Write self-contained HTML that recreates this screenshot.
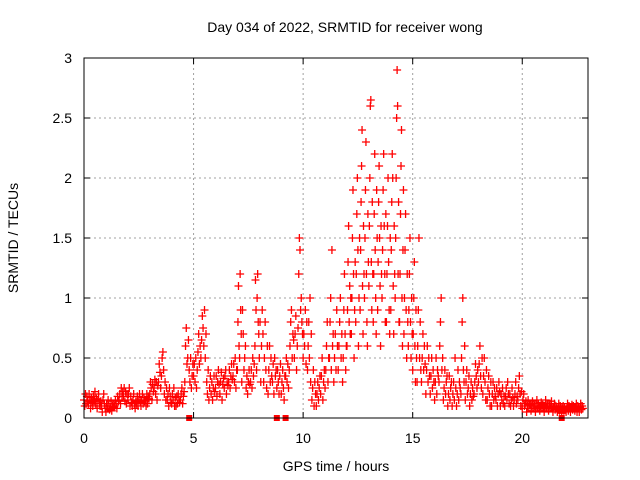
<!DOCTYPE html>
<html><head><meta charset="utf-8"><style>
body{margin:0;background:#fff}
svg{display:block;font-family:"Liberation Sans",sans-serif}
</style></head><body>
<svg id="c" width="640" height="480">
<text x="345" y="32" font-size="14" text-anchor="middle">Day 034 of 2022, SRMTID for receiver wong</text>
<text x="336" y="471" font-size="14" text-anchor="middle">GPS time / hours</text>
<text transform="translate(18,238) rotate(-90)" font-size="14" text-anchor="middle">SRMTID / TECUs</text>
<g id="grid"></g>
<g id="ticks"></g>
<g id="pts"></g>
<rect x="84" y="58" width="504" height="360" fill="none" stroke="#000" stroke-width="1"/>
</svg>
<script>
const xTicks=[0,5,10,15,20];
const yTicks=[0,0.5,1,1.5,2,2.5,3];
const yTickLabels=["0","0.5","1","1.5","2","2.5","3"];
const binStart=0, binStep=0.2;
const binValues=[
[.15,.1,.2,.12,.18,.14],[.12,.2,.15,.08,.17,.13],[.1,.18,.14,.22,.12,.16],[.08,.15,.2,.12,.1,.14],[.1,.05,.15,.2,.12,.08],
[.05,.12,.08,.15,.1,.07],[.08,.14,.06,.1,.12,.09],[.1,.15,.12,.08,.18,.14],[.15,.2,.12,.25,.18,.22],[.18,.25,.14,.22,.12,.2],
[.15,.2,.25,.1,.18,.13],[.1,.15,.2,.12,.08,.14],[.12,.18,.1,.15,.2,.13],[.1,.15,.2,.12,.17,.14],[.15,.1,.2,.12,.18,.16],
[.2,.3,.25,.15,.28,.22],[.25,.32,.2,.3,.15,.27],[.3,.45,.38,.25,.35,.5],[.55,.4,.2,.3,.15,.25],[.15,.2,.1,.25,.18,.13],
[.12,.2,.15,.25,.1,.17],[.1,.18,.12,.2,.15,.13],[.15,.2,.25,.12,.18,.22],[.3,.6,.75,.45,.5,.65],[.4,.3,.5,.25,.35,.45],
[.35,.45,.3,.5,.25,.4],[.55,.7,.45,.6,.5,.65],[.85,.75,.6,.9,.5,.7],[.3,.2,.4,.15,.25,.35],[.2,.3,.15,.25,.35,.22],
[.25,.35,.18,.3,.4,.28],[.2,.3,.38,.15,.28,.33],[.25,.35,.4,.2,.3,.27],[.3,.4,.25,.35,.45,.32],[.35,.45,.3,.5,.25,.4],
[.4,.8,1.1,.6,.5,1.2,.9,.7],[.3,.9,.7,.4,.5,.6],[.25,.35,.2,.3,.4,.28],[.3,.4,.25,.5,.35,.45],[.6,1.15,.9,.4,1.0,1.2,.8,.7],
[.5,.8,.3,.6,.9,.7],[.3,.5,.8,.4,.25,.6],[.2,.4,.6,.3,.5,.35],[.3,.45,.2,.5,.35,.4],[.25,.4,.3,.2,.35,.45],
[.2,.3,.4,.25,.15,.35],[.35,.5,.3,.45,.25,.4],[.6,.8,.9,.5,.7,.65],[.5,.7,.85,.4,.6,.75],[1.2,1.5,1.4,.9,1.0,.8,.7],
[.5,.7,.6,.9,.45,.8],[.4,.6,.8,.5,1.0,.3,.7],[.15,.25,.4,.1,.3,.2],[.1,.2,.3,.15,.25,.35],[.2,.35,.5,.15,.3,.4],
[.25,.4,.6,.8,.3,.5],[.5,.8,1.0,.4,1.4,.6,.7],[.3,.5,.7,.4,.9,.6],[.4,.6,.8,1.0,.5,.7],[.3,.5,.9,1.2,.7,.4,.6],
[.6,.9,1.3,1.6,.8,1.1,.7,1.0],[.7,1.0,1.5,1.9,1.2,.5,.9,1.3],[.8,1.2,1.7,2.0,1.4,.6,1.0,1.5],[.9,1.4,1.8,2.1,2.4,1.1,.7,1.6,1.2],[1.0,1.5,1.9,2.3,1.2,.8,.6,1.7,1.3],
[1.1,1.6,2.0,2.6,2.65,1.3,.9,1.8,1.2],[.8,1.2,1.7,2.2,1.4,1.0,.7,1.9,1.5],[.9,1.3,1.8,2.1,1.5,1.1,.6,1.6,1.2],[1.0,1.4,1.9,2.2,1.6,1.2,.8,1.7],[.8,1.2,1.6,2.0,1.3,.9,.7,1.5],
[.9,1.4,1.8,2.2,2.0,1.1,.7,1.6,1.2],[1.0,1.5,2.0,2.5,2.9,2.6,1.2,1.8,.8],[.8,1.2,1.7,2.1,2.4,1.0,.6,1.4,1.9],[.7,1.0,1.4,1.7,.9,.5,1.2,.8],[.6,.9,1.2,1.5,.8,.5,1.0,.7],
[.4,.7,1.0,1.3,.6,.3,.9,.5],[.3,.6,.9,1.5,.5,.8,.4],[.3,.5,.7,.4,.6,.45],[.2,.4,.6,.3,.5,.35],[.2,.35,.5,.25,.4,.3],
[.15,.3,.5,.2,.4,.35],[.3,.6,.8,1.0,.4,.5],[.15,.25,.4,.2,.3,.35],[.1,.2,.35,.15,.25,.3],[.1,.2,.3,.15,.5,.25],
[.1,.2,.4,.15,.3,.25],[.2,.5,.8,1.0,.4,.3,.6],[.15,.3,.4,.2,.25,.35],[.1,.2,.3,.15,.25,.18],[.2,.3,.45,.35,.25,.4],
[.3,.45,.6,.35,.25,.5],[.2,.35,.5,.3,.15,.4],[.15,.25,.35,.2,.1,.3],[.1,.2,.3,.15,.25,.18],[.15,.25,.1,.2,.3,.22],
[.1,.2,.15,.25,.12,.18],[.1,.18,.25,.15,.3,.2],[.12,.2,.1,.15,.25,.17],[.1,.15,.2,.3,.12,.18],[.15,.25,.35,.2,.1,.22],
[.08,.15,.2,.1,.12,.14],[.05,.1,.15,.08,.12,.11],[.06,.1,.14,.08,.12,.1],[.05,.1,.15,.08,.12,.09],[.06,.1,.13,.08,.11,.09],
[.05,.1,.15,.08,.12,.1],[.06,.1,.12,.08,.14,.09],[.05,.09,.12,.07,.1,.08],[.05,.08,.12,.06,.1,.09],[.04,.08,.1,.06,.09,.07],
[.05,.08,.12,.06,.1,.09],[.05,.09,.11,.07,.1,.08],[.06,.08,.12,.05,.1,.09],[.05,.09,.12,.07,.1,.08]
];
const zeroTimes=[4.8,8.8,9.2,21.8];
const NS="http://www.w3.org/2000/svg";
const X0=84,X1=588,Y0=418,Y1=58,XMAX=23,YMAX=3;
const sx=v=>X0+v/XMAX*(X1-X0), sy=v=>Y0-v/YMAX*(Y0-Y1);
function mk(t,a,p){const e=document.createElementNS(NS,t);for(const k in a)e.setAttribute(k,a[k]);p.appendChild(e);return e;}
const grid=document.getElementById('grid'),ticks=document.getElementById('ticks'),pts=document.getElementById('pts');
xTicks.forEach(v=>{const x=sx(v);
 if(v>0){const l=mk('line',{x1:x,x2:x,y1:Y1,y2:Y0,stroke:'#a0a0a0','stroke-dasharray':'2,3'},grid);}
 mk('line',{x1:x,x2:x,y1:Y0,y2:Y0-6,stroke:'#000'},ticks);mk('line',{x1:x,x2:x,y1:Y1,y2:Y1+6,stroke:'#000'},ticks);
 const t=mk('text',{x:x,y:443,'font-size':14,'text-anchor':'middle'},ticks);t.textContent=v;
 });
yTicks.forEach((v,i)=>{const y=sy(v);
 if(v>0&&v<3){const l=mk('line',{x1:X0,x2:X1,y1:y,y2:y,stroke:'#a0a0a0','stroke-dasharray':'2,3'},grid);}
 mk('line',{x1:X0,x2:X0+6,y1:y,y2:y,stroke:'#000'},ticks);mk('line',{x1:X1,x2:X1-6,y1:y,y2:y,stroke:'#000'},ticks);
 const t=mk('text',{x:72,y:y+5,'font-size':14,'text-anchor':'end'},ticks);t.textContent=yTickLabels[i];
 });
let d='';
binValues.forEach((vals,i)=>{vals.forEach((v,j)=>{const t=binStart+i*binStep+j*binStep/vals.length;
 const x=sx(t),y=sy(v);d+=`M${x-4},${y}h8M${x},${y-4}v8`;});});
const p=mk('path',{d:d,stroke:'#f00','stroke-width':1.3,fill:'none'},pts);


zeroTimes.forEach(t=>{const r=mk('rect',{x:sx(t)-3,y:Y0-3,width:6,height:6,fill:'#f00'},pts);
 
 });
</script>
</body></html>
